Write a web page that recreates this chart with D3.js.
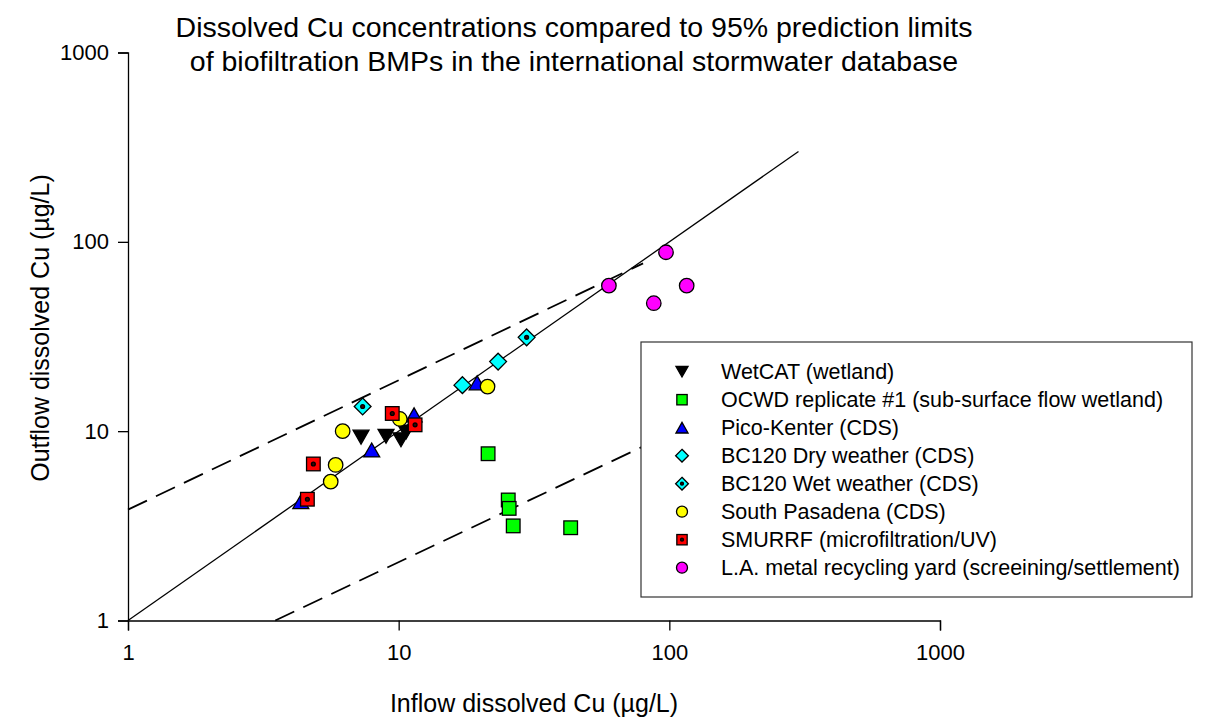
<!DOCTYPE html>
<html><head><meta charset="utf-8">
<script src="https://cdn.jsdelivr.net/npm/d3@7"></script>
<style>body{margin:0;background:#fff}svg{display:block}text{font-family:"Liberation Sans",Arial,sans-serif;fill:#000}</style>
</head><body><svg id="c" width="1220" height="719"></svg>
<script>
// ---- data ----
const titleLines = ["Dissolved Cu concentrations compared to 95% prediction limits",
                    "of biofiltration BMPs in the international stormwater database"];
const xLabel = "Inflow dissolved Cu (µg/L)";
const yLabel = "Outflow dissolved Cu (µg/L)";
const majorTicks = [1, 10, 100, 1000];
const tickLabels = ["1", "10", "100", "1000"];

const seriesNames = ["WetCAT (wetland)", "OCWD replicate #1 (sub-surface flow wetland)", "Pico-Kenter (CDS)",
  "BC120 Dry weather (CDS)", "BC120 Wet weather (CDS)", "South Pasadena (CDS)",
  "SMURRF (microfiltration/UV)", "L.A. metal recycling yard (screeining/settlement)"];
const seriesShapes = ["triDown", "square", "triUp", "diamond", "diamondDot", "circle", "squareDot", "circle"];
const seriesColors = ["#000000", "#00ff00", "#0000ff", "#00ffff", "#00ffff", "#ffff00", "#ff0000", "#ff00ff"];

const wetcatIn = [7.26, 8.98, 10.2, 10.65];
const wetcatOut = [9.3, 9.4, 9.0, 9.9];
const ocwdIn = [21.4, 25.4, 25.6, 26.5, 43.2];
const ocwdOut = [7.6, 4.33, 3.91, 3.16, 3.09];
const picoIn = [4.35, 7.95, 11.4, 19.5];
const picoOut = [4.24, 7.96, 12.2, 18.0];
const bcDryIn = [17.2, 23.3];
const bcDryOut = [17.5, 23.3];
const bcWetIn = [7.36, 29.7];
const bcWetOut = [13.5, 31.3];
const spIn = [6.21, 5.85, 5.61, 10.1, 21.3];
const spOut = [10.0, 6.63, 5.41, 11.6, 17.2];
const smurrfIn = [4.84, 4.6, 9.47, 11.5];
const smurrfOut = [6.71, 4.37, 12.4, 10.8];
const laIn = [97.2, 59.8, 115.9, 87.6];
const laOut = [88.1, 58.7, 58.7, 47.4];
const seriesIn = [wetcatIn, ocwdIn, picoIn, bcDryIn, bcWetIn, spIn, smurrfIn, laIn];
const seriesOut = [wetcatOut, ocwdOut, picoOut, bcDryOut, bcWetOut, spOut, smurrfOut, laOut];

const oneToOneX = [1, 300];
const oneToOneY = [1, 300];
const upperLimitX = [1, 80];
const upperLimitY = [3.85, 77];
const lowerLimitX = [3.5, 300];
const lowerLimitY = [1, 20.3];

// ---- drawing ----
const svg = d3.select("#c");
const x = d3.scaleLog().domain([1, 1000]).range([128, 940]);
const y = d3.scaleLog().domain([1, 1000]).range([620.5, 52.5]);

const minor = [];
[1, 10, 100].forEach(d => { for (let k = 2; k <= 9; k++) minor.push(d * k); });

// axes
const gx = svg.append("g").attr("transform", `translate(0,${y(1)})`);
gx.call(d3.axisBottom(x).tickValues(minor).tickSize(6).tickFormat(""));
gx.call(d3.axisBottom(x).tickValues(majorTicks).tickSize(10).tickFormat((d, i) => tickLabels[i]).tickPadding(14));
const gy = svg.append("g").attr("transform", `translate(${x(1)},0)`);
gy.call(d3.axisLeft(y).tickValues(minor).tickSize(6).tickFormat(""));
gy.call(d3.axisLeft(y).tickValues(majorTicks).tickSize(10).tickFormat((d, i) => tickLabels[i]).tickPadding(9));
svg.selectAll(".domain").attr("stroke", "#000").attr("stroke-width", 1.3);
svg.selectAll(".tick line").attr("stroke", "#000").attr("stroke-width", 1.3);
svg.selectAll(".tick text").style("font-size", "22px").style("font-family", '"Liberation Sans",Arial,sans-serif').attr("fill", "#000");

// reference lines
const line = d3.line().x(d => x(d[0])).y(d => y(d[1]));
svg.append("path").attr("d", line(d3.zip(oneToOneX, oneToOneY))).attr("stroke", "#000").attr("stroke-width", 1.3).attr("fill", "none");
svg.append("path").attr("d", line(d3.zip(upperLimitX, upperLimitY))).attr("stroke", "#000").attr("stroke-width", 1.8).attr("stroke-dasharray", "21,10").attr("fill", "none");
svg.append("path").attr("d", line(d3.zip(lowerLimitX, lowerLimitY))).attr("stroke", "#000").attr("stroke-width", 1.8).attr("stroke-dasharray", "21,10").attr("fill", "none");

function drawMarker(g, shape, color, s) {
  const st = { stroke: "#000", "stroke-width": 1.3, fill: color };
  let el;
  if (shape === "circle") el = g.append("circle").attr("r", s * 0.5);
  else if (shape === "square" || shape === "squareDot") el = g.append("rect").attr("x", -s * 0.47).attr("y", -s * 0.47).attr("width", s * 0.94).attr("height", s * 0.94);
  else if (shape === "diamond" || shape === "diamondDot") { const h = s * 0.58; el = g.append("path").attr("d", `M0,${-h}L${h},0L0,${h}L${-h},0Z`); }
  else if (shape === "triUp") { const w = s * 0.55, h = s * 0.48; el = g.append("path").attr("d", `M0,${-h}L${w},${h}L${-w},${h}Z`); }
  else if (shape === "triDown") { const w = s * 0.55, h = s * 0.48; el = g.append("path").attr("d", `M0,${h}L${w},${-h}L${-w},${-h}Z`); }
  Object.entries(st).forEach(([k, v]) => el.attr(k, v));
  if (shape.endsWith("Dot")) g.append("circle").attr("r", s * 0.13).attr("fill", "#400").attr("stroke", "#000").attr("stroke-width", 1.4);
}

seriesNames.forEach((name, i) => {
  const pts = d3.zip(seriesIn[i], seriesOut[i]);
  pts.forEach(p => {
    const g = svg.append("g").attr("transform", `translate(${x(p[0])},${y(p[1])})`);
    drawMarker(g, seriesShapes[i], seriesColors[i], 14.5);
  });
});

// legend
const lg = svg.append("g");
lg.append("rect").attr("x", 641).attr("y", 342).attr("width", 551).attr("height", 255)
  .attr("fill", "#fff").attr("stroke", "#333").attr("stroke-width", 1.2);
seriesNames.forEach((name, i) => {
  const cy = 371.7 + i * 28;
  const g = lg.append("g").attr("transform", `translate(682,${cy})`);
  drawMarker(g, seriesShapes[i], seriesColors[i], 11);
  lg.append("text").attr("x", 721).attr("y", cy).attr("dy", "0.36em").style("font-size", "21.5px").text(name);
});

// titles
svg.append("text").attr("x", 574).attr("y", 37).attr("text-anchor", "middle").style("font-size", "28.5px").text(titleLines[0]);
svg.append("text").attr("x", 574).attr("y", 71).attr("text-anchor", "middle").style("font-size", "28.5px").text(titleLines[1]);
svg.append("text").attr("x", 534).attr("y", 712).attr("text-anchor", "middle").style("font-size", "25px").text(xLabel);
svg.append("text").attr("transform", "translate(40,328) rotate(-90)").attr("text-anchor", "middle").attr("dy", "0.35em").style("font-size", "25px").text(yLabel);
</script></body></html>
